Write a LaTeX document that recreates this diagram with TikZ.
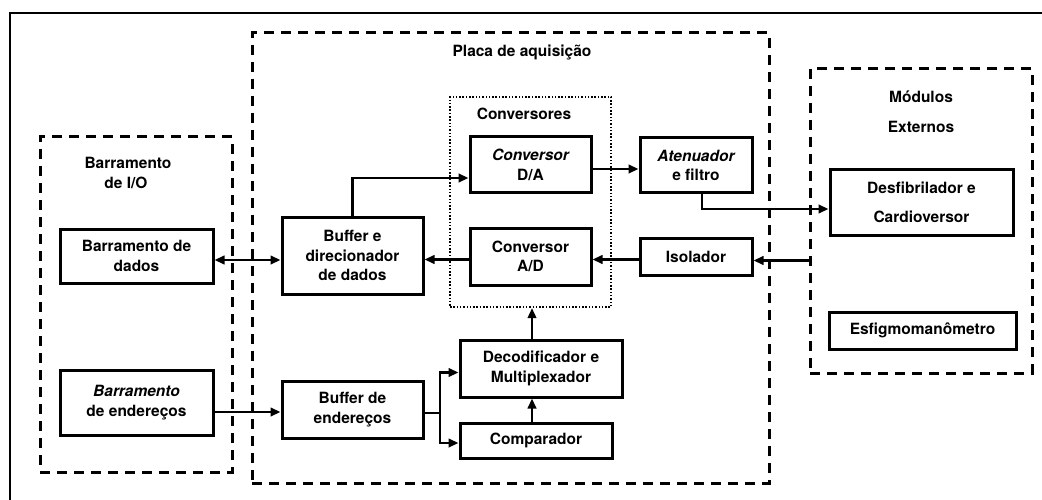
\documentclass[tikz,border=0pt]{standalone}
\usepackage{fontspec}
\setmainfont{TeX Gyre Heros}
\usetikzlibrary{arrows.meta,calc}
\begin{document}
\begin{tikzpicture}[x=1pt,y=-1pt,
  every node/.style={font=\fontsize{15.5}{19.5}\selectfont\bfseries},
  blk/.style={draw,line width=3pt,align=center,inner sep=0pt},
  grp/.style={draw,line width=3pt,dash pattern=on 10pt off 7pt,inner sep=0pt},
  dotgrp/.style={draw,line width=2.2pt,dash pattern=on 1.5pt off 1.8pt,inner sep=0pt},
  lbl/.style={align=center,inner sep=0pt},
  arr/.style={line width=2.3pt,-{Triangle[length=10pt,width=8.5pt]}},
  darr/.style={line width=2.3pt,{Triangle[length=10pt,width=8.5pt]}-{Triangle[length=10pt,width=8.5pt]}}]
\useasboundingbox (0,0) rectangle (1042,500);
% outer frame
\draw[line width=2.3pt] (10,500) -- (10,13) -- (1042,13);
% containers
\node[grp,minimum width=192pt,minimum height=335pt] (io) at (136,304.5) {};
\node[grp,minimum width=517pt,minimum height=450pt] (placa) at (510.5,258) {};
\node[grp,minimum width=222pt,minimum height=304pt] (mod) at (921,221) {};
\node[dotgrp,minimum width=161pt,minimum height=210pt] (conv) at (530.5,202) {};
% container labels
\node[lbl] (lio1) at (128,163) {Barramento};
\node[lbl] (lio2) at (126,183) {de I/O};
\node[lbl] (lplaca) at (522,53) {Placa de aquisição};
\node[lbl] (lconv) at (524,114) {Conversores};
\node[lbl] (lmod1) at (921,97) {Módulos};
\node[lbl] (lmod2) at (921,127) {Externos};
% blocks
\node[blk,minimum width=153pt,minimum height=54pt] (dados) at (136.5,256) {Barramento de\\dados};
\node[blk,minimum width=153pt,minimum height=65pt] (ende) at (136.5,402.5) {\itshape Barramento\\de endereços};
\node[blk,minimum width=141pt,minimum height=77pt] (bufd) at (352.5,255.5) {Buffer e\\direcionador\\de dados};
\node[blk,minimum width=141pt,minimum height=57pt] (bufe) at (352.5,409.5) {Buffer de\\endereços};
\node[blk,minimum width=121pt,minimum height=56pt] (da) at (530.5,165) {\itshape Conversor\\D/A};
\node[blk,minimum width=121pt,minimum height=57pt] (ad) at (530.5,256.5) {Conversor\\A/D};
\node[blk,minimum width=112pt,minimum height=55pt] (aten) at (696,165.5) {\itshape Atenuador\\e filtro};
\node[blk,minimum width=112pt,minimum height=37pt] (iso) at (696,256.5) {Isolador};
\node[blk,minimum width=183pt,minimum height=65pt] (desf) at (921.5,202.5) {Desfibrilador e\\[10pt]Cardioversor};
\node[blk,minimum width=187pt,minimum height=37pt] (esf) at (922.5,330.5) {Esfigmomanômetro};
\node[blk,minimum width=162pt,minimum height=57pt] (dec) at (541,368.5) {Decodificador e\\Multiplexador};
\node[blk,minimum width=152pt,minimum height=35pt] (comp) at (536,440.5) {Comparador};
% helper coordinates
\coordinate (vx) at (532,0);
\coordinate (bx) at (440,0);
% connectors
\draw[darr] ([yshift=-4pt]dados.east) -- ([yshift=-4pt]dados.east -| bufd.west);
\draw[arr] ([yshift=-3pt]ad.west) -- ([yshift=-3pt]ad.west -| bufd.east);
\draw[arr] ([yshift=-3pt]iso.west) -- ([yshift=-3pt]iso.west -| ad.east);
\draw[arr] ([yshift=-4pt]iso.east -| mod.west) -- ([yshift=-4pt]iso.east);
\draw[arr] (bufd.north) |- ([yshift=-13pt]da.west);
\draw[arr] ([yshift=-4pt]da.east) -- ([yshift=-4pt]da.east -| aten.west);
\draw[arr] ([xshift=6pt]aten.south) |- ([yshift=-6.5pt]desf.west);
\draw[arr] ([yshift=-9.5pt]ende.east) -- ([yshift=-9.5pt]ende.east -| bufe.west);
\draw[line width=2.3pt] ([yshift=-3.5pt]bufe.east) -- ([yshift=-3.5pt]bufe.east -| bx);
\draw[arr] ([yshift=-3.5pt]bufe.east -| bx) |- ([yshift=-4pt]dec.west);
\draw[arr] ([yshift=-3.5pt]bufe.east -| bx) |- ([yshift=-2.5pt]comp.west);
\draw[arr] (comp.north -| vx) -- (dec.south -| vx);
\draw[arr] (dec.north -| vx) -- (conv.south -| vx);
\end{tikzpicture}
\end{document}
